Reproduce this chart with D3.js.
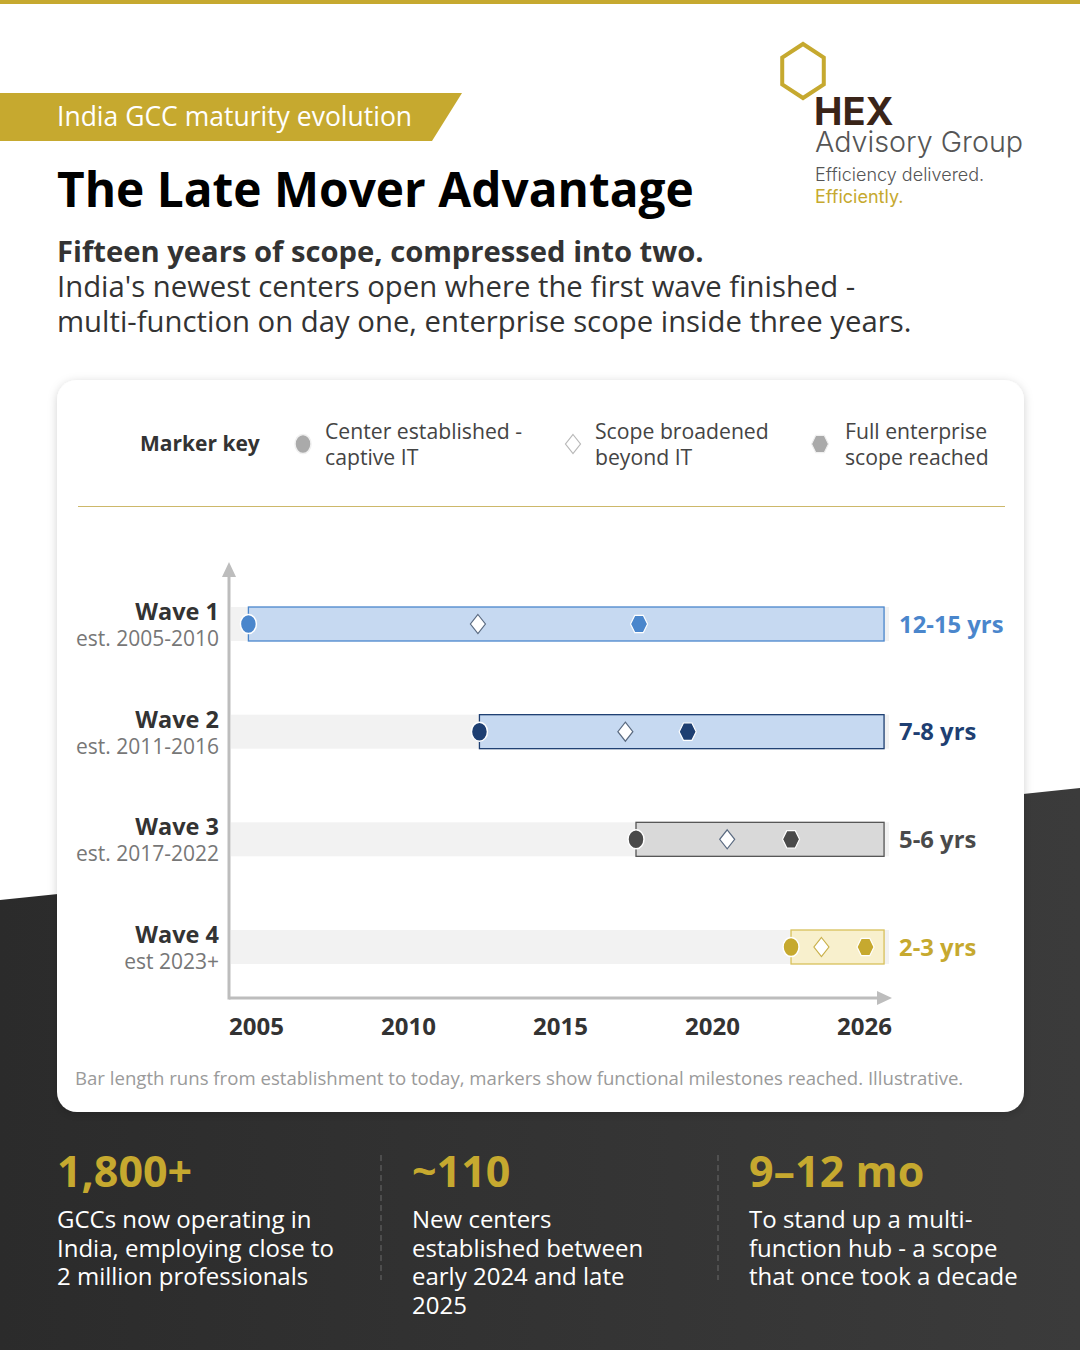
<!DOCTYPE html>
<html><head><meta charset="utf-8">
<script src="https://cdn.jsdelivr.net/npm/d3@7/dist/d3.min.js"></script>
<style>html,body{margin:0;padding:0;background:#fff;}svg{display:block;}</style>
</head><body>
<script>
// ---------- data ----------
const waves = ["Wave 1", "Wave 2", "Wave 3", "Wave 4"];
const estLabels = ["est. 2005-2010", "est. 2011-2016", "est. 2017-2022", "est 2023+"];
const establishedYear = [2004.75, 2012.35, 2017.5, 2022.6];
const broadenedYear = [2012.3, 2017.15, 2020.5, 2023.6];
const fullScopeYear = [2017.6, 2019.2, 2022.6, 2025.05];
const todayYear = 2025.66;
const durationLabels = ["12-15 yrs", "7-8 yrs", "5-6 yrs", "2-3 yrs"];
const tickYears = [2005, 2010, 2015, 2020, 2025];
const tickLabels = ["2005", "2010", "2015", "2020", "2026"];
const legendLabels = [["Center established -", "captive IT"], ["Scope broadened", "beyond IT"], ["Full enterprise", "scope reached"]];
const statValues = ["1,800+", "~110", "9\u201312 mo"];
const statTexts = [
  ["GCCs now operating in", "India, employing close to", "2 million professionals"],
  ["New centers", "established between", "early 2024 and late", "2025"],
  ["To stand up a multi-", "function hub - a scope", "that once took a decade"]
];

// ---------- style ----------
const GOLD = "#c6a92f";
const waveColor = ["#4a86cc", "#1e3f72", "#4a4a4a", "#c6a92f"];
const barFill = ["#c6d9f1", "#c6d9f1", "#d9d9d9", "#f8f0cd"];
const barStroke = ["#4a86cc", "#1e3f72", "#555555", "#d8c15a"];
const labelColor = ["#4a86cc", "#1e3f72", "#4a4a4a", "#c6a92f"];
const FONT = "'Open Sans', sans-serif";

const W = 1080, H = 1350;
const svg = d3.select("body").append("svg").attr("width", W).attr("height", H)
  .style("font-family", FONT);

const defs = svg.append("defs");
const grad = defs.append("linearGradient").attr("id", "darkg").attr("x1", 0).attr("x2", 1).attr("y1", 0).attr("y2", 0);
grad.append("stop").attr("offset", 0).attr("stop-color", "#2b2b2b");
grad.append("stop").attr("offset", 1).attr("stop-color", "#3b3b3b");
const flt = defs.append("filter").attr("id", "shadow").attr("x", -0.1).attr("y", -0.1).attr("width", 1.2).attr("height", 1.2);
flt.append("feDropShadow").attr("dx", 0).attr("dy", 2).attr("stdDeviation", 5).attr("flood-color", "#000").attr("flood-opacity", 0.18);

// background
svg.append("rect").attr("width", W).attr("height", H).attr("fill", "#fff");
svg.append("polygon").attr("points", "0,900 1080,788 1080,1350 0,1350").attr("fill", "url(#darkg)");
svg.append("rect").attr("x", 0).attr("y", 0).attr("width", W).attr("height", 4).attr("fill", GOLD);

// banner
svg.append("polygon").attr("points", "0,93 462,93 432,141 0,141").attr("fill", GOLD);
svg.append("text").attr("x", 57).attr("y", 126).attr("fill", "#fff").attr("font-size", 26.5).text("India GCC maturity evolution");

// title
svg.append("text").attr("x", 57).attr("y", 207).attr("fill", "#000").attr("font-size", 47.8).attr("font-weight", 700).text("The Late Mover Advantage");
svg.append("text").attr("x", 57).attr("y", 262).attr("fill", "#333").attr("font-size", 29.2).attr("font-weight", 700).text("Fifteen years of scope, compressed into two.");
svg.append("text").attr("x", 57).attr("y", 297).attr("fill", "#333").attr("font-size", 29.3).text("India's newest centers open where the first wave finished -");
svg.append("text").attr("x", 57).attr("y", 332).attr("fill", "#333").attr("font-size", 29.3).text("multi-function on day one, enterprise scope inside three years.");

// logo
const hexPts = (cx, cy, rx, ry, pointyTop) => d3.range(6).map(i => {
  const a = Math.PI / 3 * i + (pointyTop ? Math.PI / 2 : 0);
  return [cx + rx * Math.cos(a), cy + ry * Math.sin(a)];
});
svg.append("polygon").attr("points", hexPts(803, 71, 24, 27, true).join(" "))
  .attr("fill", "none").attr("stroke", GOLD).attr("stroke-width", 4);
svg.append("text").attr("x", 814).attr("y", 125).attr("fill", "#3a2418").attr("font-size", 38).attr("font-weight", 700)
  .attr("font-family", "Inter, sans-serif").text("HEX");
svg.append("text").attr("x", 815).attr("y", 152).attr("fill", "#555").attr("font-size", 28.7)
  .attr("font-family", "Inter, sans-serif").attr("font-weight", 300).text("Advisory Group");
svg.append("text").attr("x", 815).attr("y", 181).attr("fill", "#555").attr("font-size", 18)
  .attr("font-family", "Inter, sans-serif").attr("font-weight", 300).text("Efficiency delivered.");
svg.append("text").attr("x", 815).attr("y", 203).attr("fill", GOLD).attr("font-size", 18)
  .attr("font-family", "Inter, sans-serif").attr("font-weight", 400).text("Efficiently.");

// card
svg.append("rect").attr("x", 57).attr("y", 380).attr("width", 967).attr("height", 732).attr("rx", 20)
  .attr("fill", "#fff").attr("filter", "url(#shadow)");

// legend
svg.append("text").attr("x", 140).attr("y", 451).attr("fill", "#333").attr("font-size", 21).attr("font-weight", 700).text("Marker key");
const legendX = [303, 573, 820];
const legendTextX = [325, 595, 845];
const g = svg.append("g");
function drawCircle(sel, cx, cy, fill, stroke) {
  sel.append("ellipse").attr("cx", cx).attr("cy", cy).attr("rx", 8).attr("ry", 9.5)
    .attr("fill", fill).attr("stroke", stroke).attr("stroke-width", 1.5);
}
function drawDiamond(sel, cx, cy, stroke) {
  sel.append("polygon").attr("points", [[cx, cy - 9.5], [cx + 7.5, cy], [cx, cy + 9.5], [cx - 7.5, cy]].join(" "))
    .attr("fill", "#fff").attr("stroke", stroke).attr("stroke-width", 1.2);
}
function drawHex(sel, cx, cy, fill, stroke) {
  sel.append("polygon").attr("points", hexPts(cx, cy, 8.5, 10, false).join(" "))
    .attr("fill", fill).attr("stroke", stroke).attr("stroke-width", 1.2);
}
drawCircle(g, legendX[0], 444, "#aaaaaa", "#f0f0f0");
drawDiamond(g, legendX[1], 444, "#b8b8b8");
drawHex(g, legendX[2], 444, "#aaaaaa", "#f0f0f0");
legendLabels.forEach((lines, i) => {
  lines.forEach((t, j) => {
    svg.append("text").attr("x", legendTextX[i]).attr("y", 439 + j * 26).attr("fill", "#444").attr("font-size", 21.2).text(t);
  });
});
svg.append("line").attr("x1", 78).attr("x2", 1005).attr("y1", 506.5).attr("y2", 506.5).attr("stroke", "#cdb86a").attr("stroke-width", 1.2);

// chart scales
const x = d3.scaleLinear().domain([2005, 2025]).range([256, 864]);
const y = d3.scalePoint().domain(waves).range([624, 947]);
const axisX = 229, axisY = 998;
const barH = 34;
const xEnd = x(todayYear);

// row backgrounds
svg.append("g").selectAll("rect").data(waves).join("rect")
  .attr("x", axisX + 2).attr("width", xEnd + 5 - axisX - 2)
  .attr("y", d => y(d) - barH / 2).attr("height", barH).attr("fill", "#f2f2f2");

// bars
svg.append("g").selectAll("rect").data(waves).join("rect")
  .attr("x", (d, i) => x(establishedYear[i])).attr("width", (d, i) => xEnd - x(establishedYear[i]))
  .attr("y", d => y(d) - barH / 2).attr("height", barH)
  .attr("fill", (d, i) => barFill[i]).attr("stroke", (d, i) => barStroke[i]).attr("stroke-width", 1.3);

// axes
const axisCol = "#bdbdbd";
svg.append("line").attr("x1", axisX).attr("x2", axisX).attr("y1", 574).attr("y2", axisY + 1.5).attr("stroke", axisCol).attr("stroke-width", 3);
svg.append("polygon").attr("points", `${axisX},562 ${axisX + 7},577 ${axisX - 7},577`).attr("fill", axisCol);
svg.append("line").attr("x1", axisX).attr("x2", 880).attr("y1", axisY).attr("y2", axisY).attr("stroke", axisCol).attr("stroke-width", 3);
svg.append("polygon").attr("points", `892,${axisY} 877,${axisY - 7} 877,${axisY + 7}`).attr("fill", axisCol);

const xAxis = d3.axisBottom(x).tickValues(tickYears).tickSize(0).tickPadding(0)
  .tickFormat((d, i) => tickLabels[i]);
const ax = svg.append("g").attr("transform", `translate(0,${axisY})`).call(xAxis);
ax.select(".domain").remove();
ax.selectAll("text").attr("y", 37).attr("dy", 0).attr("fill", "#333").attr("font-size", 24).attr("font-weight", 700)
  .attr("font-family", FONT);

// wave labels
waves.forEach((w, i) => {
  svg.append("text").attr("x", 219).attr("y", y(w) - 4).attr("text-anchor", "end").attr("fill", "#333")
    .attr("font-size", 23.5).attr("font-weight", 700).text(w);
  svg.append("text").attr("x", 219).attr("y", y(w) + 22).attr("text-anchor", "end").attr("fill", "#777")
    .attr("font-size", 21).text(estLabels[i]);
  svg.append("text").attr("x", xEnd + 15).attr("y", y(w) + 8.5).attr("fill", labelColor[i])
    .attr("font-size", 23.8).attr("font-weight", 700).text(durationLabels[i]);
});

// markers
const mg = svg.append("g");
waves.forEach((w, i) => {
  const cy = y(w);
  drawDiamond(mg, x(broadenedYear[i]), cy, i === 3 ? "#c9b04a" : "#5a6a80");
  drawHex(mg, x(fullScopeYear[i]), cy, waveColor[i], "#ffffff");
  drawCircle(mg, x(establishedYear[i]), cy, waveColor[i], "#ffffff");
});

// footnote
svg.append("text").attr("x", 75).attr("y", 1085).attr("fill", "#9a9a9a").attr("font-size", 18.6)
  .text("Bar length runs from establishment to today, markers show functional milestones reached. Illustrative.");

// stats
const statX = [57, 412, 749];
statValues.forEach((v, i) => {
  svg.append("text").attr("x", statX[i]).attr("y", 1187).attr("fill", GOLD).attr("font-size", 43).attr("font-weight", 700).text(v);
  statTexts[i].forEach((t, j) => {
    svg.append("text").attr("x", statX[i]).attr("y", 1228 + j * 28.5).attr("fill", "#fff").attr("font-size", 24).text(t);
  });
});
[381, 718].forEach(dx => {
  svg.append("line").attr("x1", dx).attr("x2", dx).attr("y1", 1155).attr("y2", 1280)
    .attr("stroke", "#6a6a6a").attr("stroke-width", 1).attr("stroke-dasharray", "6,4");
});
</script>
</body></html>
